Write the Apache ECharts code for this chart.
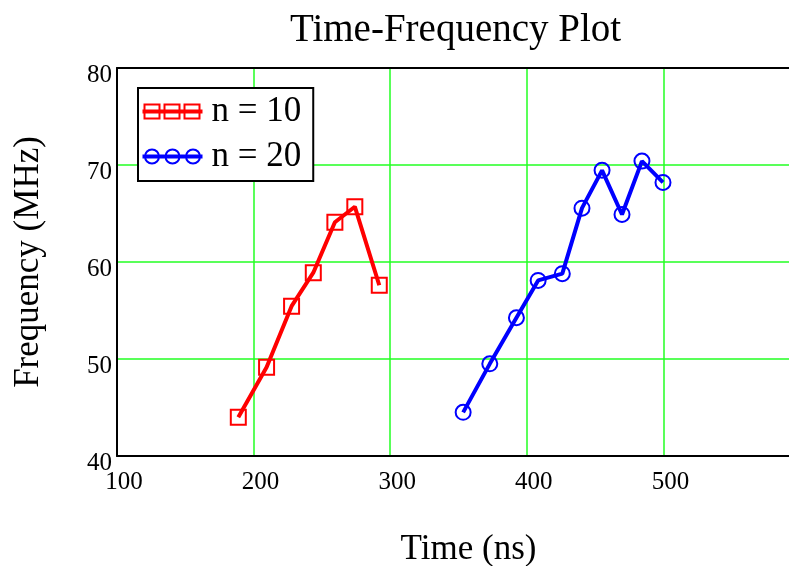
<!DOCTYPE html>
<html><head><meta charset="utf-8">
<script src="https://cdn.jsdelivr.net/npm/echarts@6/dist/echarts.min.js"></script>
<style>html,body{margin:0;padding:0;background:#fff}#c{width:789px;height:566px}</style>
</head><body><div id="c"></div>
<script>
const titleText = 'Time-Frequency Plot';
const xName = 'Time (ns)';
const yName = 'Frequency (MHz)';
const seriesNames = ['n = 10', 'n = 20'];
const timeN10 = [188.8, 209.5, 227.8, 243.7, 259.5, 274.1, 292.0];
const freqN10 = [44.0, 49.15, 55.45, 58.9, 64.1, 65.7, 57.6];
const timeN20 = [353.4, 372.9, 392.4, 408.3, 426.0, 440.4, 455.1, 469.7, 484.3, 499.7];
const freqN20 = [44.5, 49.5, 54.25, 58.1, 58.8, 65.55, 69.45, 64.9, 70.4, 68.2];
const xTicks = {min: 100, max: 600, interval: 100};
const yTicks = {min: 40, max: 80, interval: 10};

const FONT = "'Liberation Serif', 'Times New Roman', serif";
const GRID_GREEN = '#22ff22';
const pair = (xs, ys) => xs.map((x, i) => [x, ys[i]]);
const redIcon = 'path://M0,7 L58,7 L58,9 L0,9 Z M1,1 L16,1 L16,15 L1,15 Z M21,1 L36,1 L36,15 L21,15 Z M41,1 L56,1 L56,15 L41,15 Z';
const blueIcon = 'path://M0,7 L58,7 L58,9 L0,9 Z M1.5,8 A7,7 0 1,0 15.5,8 A7,7 0 1,0 1.5,8 Z M22,8 A7,7 0 1,0 36,8 A7,7 0 1,0 22,8 Z M42.5,8 A7,7 0 1,0 56.5,8 A7,7 0 1,0 42.5,8 Z';

const chart = echarts.init(document.getElementById('c'), null, {renderer: 'canvas'});
chart.setOption({
  animation: false,
  backgroundColor: '#fff',
  title: {
    text: titleText, left: 290, top: 11,
    textStyle: {fontFamily: FONT, fontSize: 39, fontWeight: 'normal', color: '#000'},
    padding: [0, 0, 0, 0], itemGap: 0
  },
  grid: {left: 117, width: 683, top: 68, height: 388, show: false, containLabel: false, outerBoundsMode: 'none'},
  legend: {
    left: 138, top: 88, orient: 'vertical', z: 10,
    backgroundColor: '#fff', borderColor: '#000', borderWidth: 2,
    padding: [6, 12, 7, 3], itemGap: 10, itemWidth: 58, itemHeight: 16,
    textStyle: {fontFamily: FONT, fontSize: 35, color: '#000', lineHeight: 34, padding: [0, 0, 0, 5]},
    data: [
      {name: seriesNames[0], icon: redIcon, itemStyle: {color: 'none', borderColor: '#ff0000', borderWidth: 2}},
      {name: seriesNames[1], icon: blueIcon, itemStyle: {color: 'none', borderColor: '#0000ff', borderWidth: 2}}
    ]
  },
  xAxis: [{
    type: 'value', min: xTicks.min, max: xTicks.max, interval: xTicks.interval,
    name: xName, nameLocation: 'middle', nameGap: 76, z: 2,
    nameTextStyle: {fontFamily: FONT, fontSize: 35, color: '#000', padding: [0, 0, 0, 20]},
    axisLine: {show: true, lineStyle: {color: '#000', width: 2}},
    axisTick: {show: false},
    axisLabel: {fontFamily: FONT, fontSize: 25, color: '#000', margin: 14, padding: [0, 0, 0, 14], showMaxLabel: false},
    splitLine: {show: true, lineStyle: {color: GRID_GREEN, width: 1.5}}
  }, {
    type: 'value', position: 'top', min: xTicks.min, max: xTicks.max, interval: xTicks.interval,
    z: 2,
    axisLine: {show: true, lineStyle: {color: '#000', width: 2}},
    axisTick: {show: false}, axisLabel: {show: false}, splitLine: {show: false}
  }],
  yAxis: [{
    type: 'value', position: 'left', min: yTicks.min, max: yTicks.max, interval: yTicks.interval,
    name: yName, nameLocation: 'middle', nameGap: 71, z: 1,
    nameTextStyle: {fontFamily: FONT, fontSize: 35, color: '#000'},
    axisLine: {show: false},
    axisTick: {show: false},
    axisLabel: {fontFamily: FONT, fontSize: 25, color: '#000', margin: 5, verticalAlign: 'top', lineHeight: 14},
    splitLine: {show: true, lineStyle: {color: GRID_GREEN, width: 1.5}}
  }, {
    type: 'value', position: 'left', min: yTicks.min, max: yTicks.max, interval: yTicks.interval,
    z: 3,
    axisLine: {show: true, lineStyle: {color: '#000', width: 2}},
    axisTick: {show: false}, axisLabel: {show: false}, splitLine: {show: false}
  }],
  series: [
    {
      name: seriesNames[0], type: 'line', data: pair(timeN10, freqN10), xAxisIndex: 0, yAxisIndex: 0,
      symbol: 'rect', symbolSize: 15,
      itemStyle: {color: 'rgba(0,0,0,0)', borderColor: '#ff0000', borderWidth: 2},
      lineStyle: {color: '#ff0000', width: 4}, z: 3
    },
    {
      name: seriesNames[1], type: 'line', data: pair(timeN20, freqN20), xAxisIndex: 0, yAxisIndex: 0,
      symbol: 'circle', symbolSize: 15,
      itemStyle: {color: 'rgba(0,0,0,0)', borderColor: '#0000ff', borderWidth: 2},
      lineStyle: {color: '#0000ff', width: 4}, z: 3
    }
  ]
});
</script></body></html>
